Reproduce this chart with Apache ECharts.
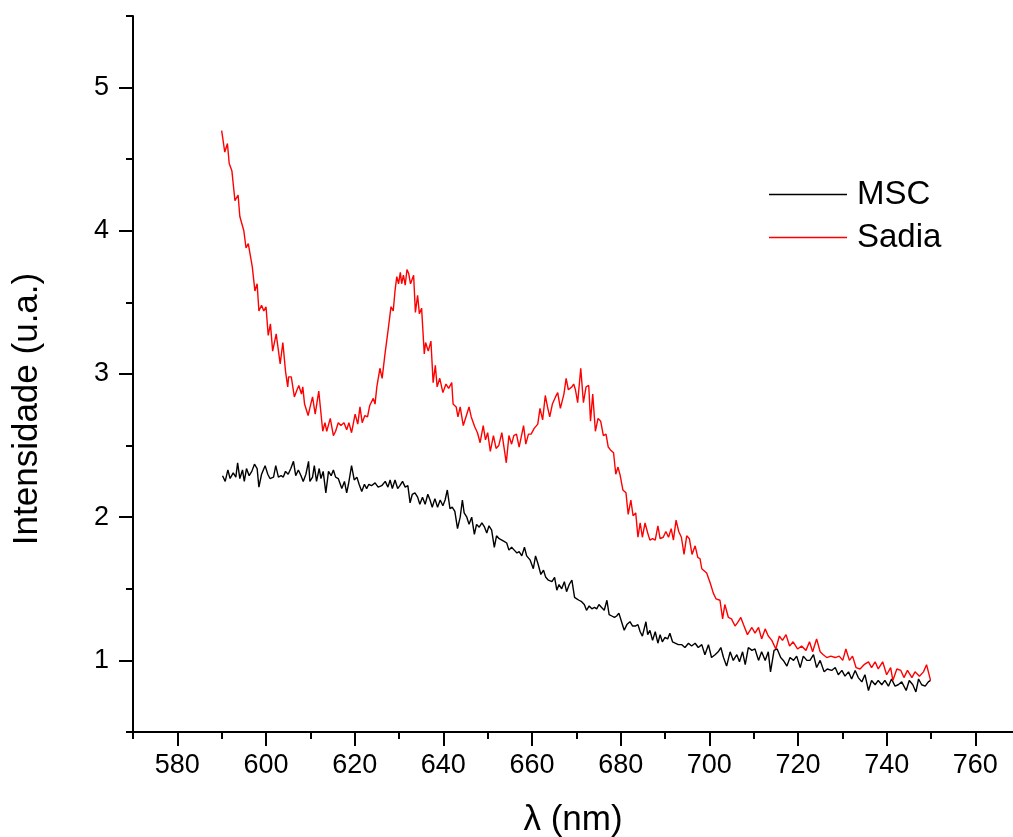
<!DOCTYPE html>
<html><head><meta charset="utf-8">
<script src="https://cdn.jsdelivr.net/npm/echarts@6/dist/echarts.min.js"></script>
<style>html,body{margin:0;padding:0;background:#fff}#c{width:1013px;height:837px}</style>
</head><body><div id="c"></div>
<script>
const seriesNames = ['MSC', 'Sadia'];
const xMajorTicks = [580,600,620,640,660,680,700,720,740,760];
const xMinorTicks = [570,590,610,630,650,670,690,710,730,750];
const yMajorTicks = [1,2,3,4,5];
const yMinorTicks = [0.5,1.5,2.5,3.5,4.5,5.5];

// Sadia: [wavelength nm, intensity]
const sadia = [[590.0,4.70],[590.7,4.55],[591.3,4.61],[591.7,4.47],[592.3,4.42],[593.0,4.21],[593.7,4.25],[594.1,4.10],[594.5,4.11],[595.0,4.00],[595.5,3.88],[596.0,3.91],[596.9,3.75],[597.5,3.58],[598.0,3.63],[598.4,3.44],[599.0,3.48],[599.5,3.44],[600.0,3.47],[600.5,3.27],[601.0,3.35],[601.5,3.16],[602.3,3.28],[603.2,3.07],[603.8,3.22],[604.4,3.02],[604.9,2.91],[605.1,2.98],[605.7,2.98],[606.4,2.84],[607.0,2.89],[607.4,2.92],[608.0,2.86],[608.3,2.91],[608.7,2.79],[609.5,2.71],[610.1,2.79],[610.5,2.84],[611.1,2.72],[611.9,2.88],[612.8,2.60],[613.3,2.66],[613.7,2.60],[614.5,2.69],[615.2,2.57],[615.7,2.60],[616.3,2.66],[616.9,2.64],[617.6,2.66],[618.2,2.61],[618.7,2.66],[619.3,2.59],[620.1,2.72],[620.7,2.65],[621.2,2.77],[621.7,2.66],[622.3,2.71],[622.9,2.70],[623.4,2.78],[624.2,2.83],[624.6,2.79],[625.0,2.91],[625.7,3.04],[626.2,2.97],[626.8,3.13],[627.2,3.12],[627.6,3.32],[628.2,3.47],[628.7,3.44],[629.1,3.58],[629.5,3.68],[629.9,3.63],[630.3,3.71],[630.6,3.63],[631.0,3.69],[631.4,3.62],[631.8,3.73],[632.2,3.70],[632.6,3.63],[633.3,3.69],[633.7,3.43],[634.2,3.55],[634.6,3.42],[635.1,3.46],[635.7,3.14],[636.0,3.22],[636.6,3.16],[637.2,3.23],[637.7,2.94],[638.2,3.06],[638.6,2.91],[639.2,2.97],[639.9,2.87],[640.6,2.93],[641.2,2.90],[641.9,2.94],[642.2,2.79],[642.9,2.77],[643.3,2.70],[643.8,2.77],[644.5,2.64],[645.1,2.70],[645.8,2.77],[646.3,2.70],[647.1,2.63],[647.7,2.59],[648.3,2.52],[649.0,2.64],[649.5,2.54],[650.0,2.59],[650.6,2.46],[651.3,2.57],[651.9,2.48],[652.5,2.50],[653.2,2.59],[654.2,2.38],[654.8,2.57],[655.4,2.51],[655.9,2.57],[656.5,2.58],[657.1,2.49],[657.4,2.48],[658.1,2.64],[658.6,2.51],[659.2,2.58],[659.8,2.58],[660.5,2.62],[661.3,2.65],[661.8,2.76],[662.4,2.68],[663.0,2.85],[663.5,2.77],[664.0,2.70],[664.6,2.79],[665.3,2.84],[665.8,2.87],[666.4,2.76],[667.2,2.86],[667.7,2.97],[668.2,2.89],[669.0,2.91],[669.4,2.93],[669.8,2.89],[670.3,2.80],[671.0,3.04],[671.6,2.80],[672.2,2.91],[672.8,2.92],[673.2,2.67],[673.7,2.86],[674.3,2.60],[674.9,2.69],[675.5,2.67],[676.1,2.57],[676.7,2.58],[677.2,2.49],[677.7,2.47],[678.4,2.45],[678.9,2.30],[679.4,2.35],[679.9,2.29],[680.5,2.19],[681.2,2.17],[681.7,2.02],[682.3,2.12],[682.8,2.01],[683.4,2.03],[683.9,1.86],[684.4,1.96],[684.9,1.86],[685.5,1.96],[686.1,1.89],[686.6,1.84],[687.2,1.85],[687.8,1.84],[688.4,1.94],[688.9,1.85],[689.6,1.86],[690.2,1.90],[690.8,1.86],[691.4,1.92],[691.9,1.84],[692.5,1.98],[693.1,1.90],[693.7,1.86],[694.3,1.74],[694.9,1.87],[695.5,1.85],[696.1,1.74],[696.8,1.80],[697.4,1.72],[697.9,1.71],[698.3,1.64],[699.4,1.61],[700.2,1.54],[700.9,1.47],[701.5,1.43],[702.4,1.42],[703.0,1.29],[703.5,1.39],[704.3,1.30],[705.0,1.29],[705.8,1.24],[706.3,1.26],[707.1,1.30],[707.7,1.25],[708.6,1.18],[709.6,1.23],[710.3,1.19],[711.1,1.23],[711.8,1.15],[712.6,1.22],[713.3,1.17],[714.1,1.14],[715.0,1.08],[715.8,1.17],[716.5,1.14],[717.3,1.18],[718.1,1.10],[718.9,1.13],[719.9,1.08],[720.8,1.10],[721.8,1.07],[722.6,1.13],[723.3,1.06],[724.2,1.15],[725.0,1.06],[725.7,1.04],[726.5,1.02],[727.4,1.03],[728.4,1.02],[729.3,1.03],[730.1,1.00],[730.8,1.08],[731.6,1.00],[732.3,1.03],[733.1,0.95],[734.0,0.94],[734.9,0.97],[735.9,0.99],[736.6,0.95],[737.4,0.99],[738.1,0.94],[739.1,0.99],[740.0,0.90],[740.9,0.95],[741.4,0.86],[742.3,0.94],[743.2,0.93],[743.9,0.88],[744.7,0.93],[745.7,0.88],[746.4,0.92],[747.4,0.89],[748.3,0.92],[749.0,0.97],[749.9,0.86]];

// MSC: [wavelength nm, intensity]
const msc = [[590.2,2.29],[590.8,2.25],[591.4,2.33],[591.9,2.27],[592.6,2.31],[593.2,2.28],[593.6,2.38],[594.1,2.27],[594.7,2.33],[595.1,2.25],[595.6,2.34],[596.2,2.29],[596.8,2.32],[597.4,2.37],[598.0,2.34],[598.4,2.21],[599.0,2.30],[599.8,2.36],[600.4,2.30],[600.9,2.27],[601.7,2.28],[602.2,2.36],[602.8,2.28],[603.4,2.29],[603.9,2.28],[604.4,2.32],[605.0,2.30],[605.6,2.34],[606.2,2.39],[606.7,2.29],[607.3,2.33],[607.9,2.29],[608.4,2.25],[609.0,2.30],[609.6,2.39],[609.9,2.25],[610.5,2.28],[610.9,2.36],[611.4,2.25],[612.0,2.34],[612.4,2.27],[612.9,2.32],[613.5,2.17],[614.1,2.32],[614.7,2.29],[615.2,2.33],[615.7,2.28],[616.3,2.27],[617.1,2.20],[617.7,2.25],[618.2,2.17],[618.6,2.23],[619.3,2.36],[619.9,2.26],[620.5,2.28],[621.0,2.23],[621.6,2.18],[622.2,2.23],[622.7,2.20],[623.2,2.23],[623.8,2.22],[624.6,2.24],[625.3,2.21],[626.1,2.22],[626.9,2.25],[627.5,2.21],[628.0,2.26],[628.5,2.20],[629.1,2.26],[629.7,2.20],[630.2,2.22],[630.8,2.25],[631.4,2.21],[632.0,2.22],[632.5,2.10],[633.0,2.16],[633.6,2.17],[634.2,2.14],[634.7,2.09],[635.3,2.14],[635.9,2.09],[636.5,2.16],[637.0,2.12],[637.5,2.07],[638.1,2.13],[638.7,2.07],[639.3,2.12],[639.9,2.08],[640.4,2.12],[640.9,2.19],[641.5,2.06],[642.0,2.07],[642.6,2.04],[643.2,1.92],[643.8,2.00],[644.3,2.12],[644.7,2.03],[645.3,2.00],[645.8,1.95],[646.4,2.00],[647.0,1.88],[647.5,1.95],[648.1,1.93],[648.7,1.96],[649.3,1.93],[649.8,1.89],[650.3,1.94],[650.9,1.91],[651.5,1.79],[652.0,1.87],[652.6,1.85],[653.2,1.84],[653.8,1.83],[654.3,1.82],[654.8,1.77],[655.4,1.79],[656.0,1.77],[656.6,1.75],[657.1,1.76],[657.7,1.73],[658.3,1.79],[658.8,1.73],[659.6,1.70],[660.3,1.64],[660.8,1.73],[661.4,1.67],[662.0,1.60],[662.6,1.63],[663.1,1.58],[663.7,1.56],[664.5,1.55],[665.1,1.58],[665.6,1.49],[666.1,1.53],[666.7,1.50],[667.3,1.55],[667.8,1.48],[668.4,1.53],[669.0,1.56],[669.6,1.44],[670.1,1.43],[670.6,1.42],[671.2,1.41],[671.8,1.39],[672.3,1.35],[672.9,1.38],[673.5,1.36],[674.1,1.37],[674.6,1.36],[675.1,1.39],[675.7,1.37],[676.3,1.35],[676.9,1.42],[677.4,1.32],[678.0,1.31],[678.6,1.30],[679.1,1.31],[679.6,1.33],[680.2,1.27],[680.8,1.21],[681.4,1.25],[682.1,1.27],[682.7,1.24],[683.3,1.24],[683.9,1.25],[684.4,1.20],[684.9,1.17],[685.7,1.27],[686.1,1.18],[686.6,1.21],[687.2,1.14],[687.8,1.20],[688.4,1.12],[688.9,1.18],[689.4,1.13],[690.0,1.16],[690.6,1.15],[691.1,1.19],[691.7,1.13],[692.3,1.12],[693.0,1.11],[693.8,1.11],[694.5,1.09],[695.3,1.12],[696.0,1.10],[696.8,1.12],[697.5,1.09],[698.3,1.11],[699.0,1.04],[699.8,1.11],[700.5,1.02],[701.3,1.04],[702.0,1.06],[702.6,1.09],[703.2,1.02],[703.9,0.96],[704.7,1.06],[705.4,1.00],[706.2,1.04],[706.8,0.99],[707.5,1.06],[708.1,0.97],[708.8,1.09],[709.6,1.07],[710.3,1.08],[711.1,1.00],[711.8,1.06],[712.6,1.00],[713.3,1.06],[713.8,0.92],[714.6,1.07],[715.3,1.08],[716.1,1.02],[716.7,1.00],[717.5,0.96],[718.2,1.02],[719.0,1.00],[719.7,1.03],[720.5,0.95],[721.2,1.03],[722.0,1.00],[722.7,1.00],[723.5,1.04],[724.2,0.95],[725.0,1.00],[725.9,0.92],[726.6,0.94],[727.6,0.93],[728.4,0.95],[729.1,0.90],[729.9,0.93],[730.6,0.89],[731.4,0.92],[732.1,0.87],[732.9,0.93],[733.6,0.88],[734.4,0.85],[735.1,0.90],[735.9,0.79],[736.6,0.86],[737.4,0.83],[738.1,0.86],[738.9,0.83],[739.6,0.86],[740.4,0.82],[741.1,0.87],[741.9,0.82],[742.6,0.83],[743.4,0.85],[744.4,0.79],[745.1,0.86],[745.9,0.83],[746.6,0.78],[747.2,0.87],[747.9,0.83],[748.7,0.82],[749.4,0.85],[749.9,0.86]];

const FONT = '"Liberation Sans", Arial, Helvetica, sans-serif';
const axisLineStyle = {color: '#000', width: 2};

const chart = echarts.init(document.getElementById('c'), null, {renderer: 'canvas'});
chart.setOption({
  animation: false,
  backgroundColor: '#fff',
  grid: {left: 133, right: 0, top: 16, bottom: 105, containLabel: false, outerBoundsMode: 'none'},
  legend: {
    orient: 'vertical', left: 764, top: 173, itemGap: 10,
    itemWidth: 78, itemHeight: 1.5, icon: 'rect',
    data: seriesNames,
    textStyle: {fontFamily: FONT, fontSize: 33, color: '#000', lineHeight: 33, padding: [0,0,0,5]}
  },
  xAxis: [
    {
      type: 'value', min: 570, max: 768.5, position: 'bottom',
      name: 'λ (nm)', nameLocation: 'middle', nameGap: 71,
      nameTextStyle: {fontFamily: FONT, fontSize: 35, color: '#000'},
      axisLine: {show: true, onZero: false, lineStyle: axisLineStyle},
      axisTick: {show: true, customValues: xMajorTicks, length: 14, lineStyle: axisLineStyle},
      axisLabel: {customValues: xMajorTicks, fontFamily: FONT, fontSize: 27, color: '#000', margin: 20},
      splitLine: {show: false}
    },
    {
      type: 'value', min: 570, max: 768.5, position: 'bottom',
      axisLine: {show: false, onZero: false},
      axisTick: {show: true, customValues: xMinorTicks, length: 7, lineStyle: axisLineStyle},
      axisLabel: {show: false}, splitLine: {show: false}
    }
  ],
  yAxis: [
    {
      type: 'value', min: 0.5, max: 5.5, position: 'left',
      name: 'Intensidade (u.a.)', nameLocation: 'middle', nameGap: 88, nameRotate: 90,
      nameTextStyle: {fontFamily: FONT, fontSize: 35, color: '#000', padding: [0, 70, 0, 0]},
      axisLine: {show: true, onZero: false, lineStyle: axisLineStyle},
      axisTick: {show: true, customValues: yMajorTicks, length: 14, lineStyle: axisLineStyle},
      axisLabel: {customValues: yMajorTicks, fontFamily: FONT, fontSize: 27, color: '#000', margin: 24},
      splitLine: {show: false}
    },
    {
      type: 'value', min: 0.5, max: 5.5, position: 'left',
      axisLine: {show: false, onZero: false},
      axisTick: {show: true, customValues: yMinorTicks, length: 7, lineStyle: axisLineStyle},
      axisLabel: {show: false}, splitLine: {show: false}
    }
  ],
  series: [
    {name: seriesNames[0], type: 'line', xAxisIndex: 0, yAxisIndex: 0, data: msc,
     showSymbol: false, symbol: 'none', color: '#000', lineStyle: {color: '#000', width: 1.4}},
    {name: seriesNames[1], type: 'line', xAxisIndex: 0, yAxisIndex: 0, data: sadia,
     showSymbol: false, symbol: 'none', color: '#ff0000', lineStyle: {color: '#ff0000', width: 1.4}}
  ]
});
</script></body></html>
